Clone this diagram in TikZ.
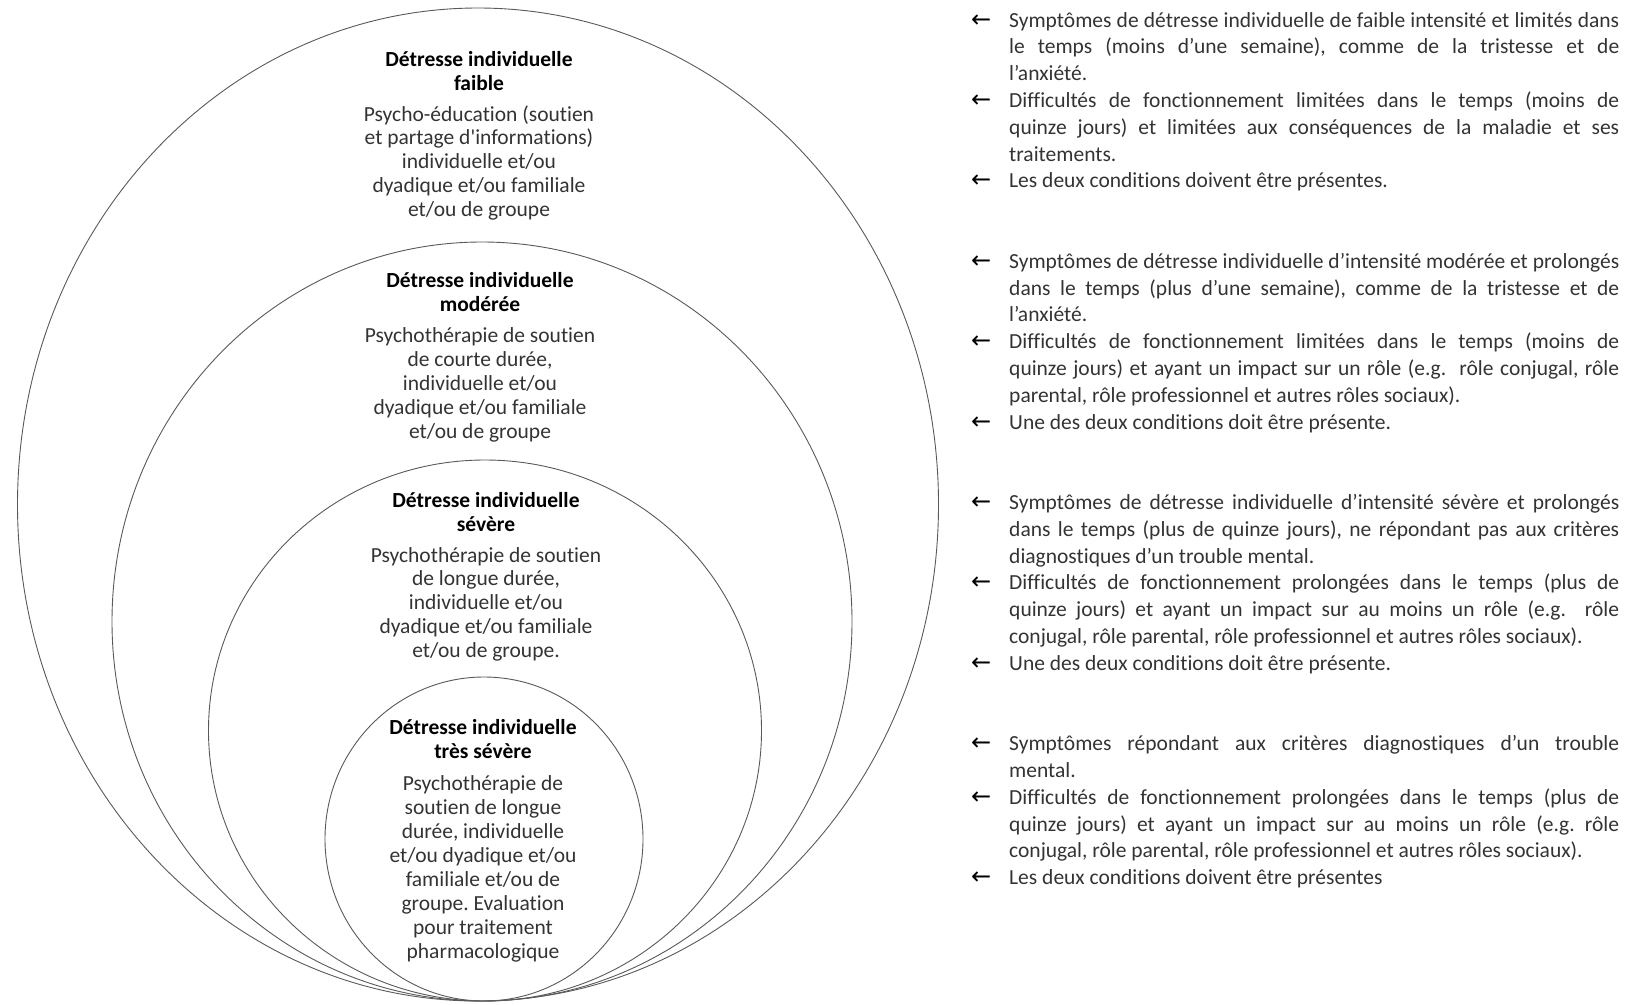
\documentclass[tikz,border=0pt]{standalone}
\usepackage{fontspec}
\setmainfont{Carlito}[Ligatures={TeX,NoCommon}]
\newfontfamily\arrowfont{DejaVu Sans}
\usetikzlibrary{shapes.geometric,positioning}
\hyphenpenalty=10000\relax
\newcommand{\critem}[1]{\hangindent=38pt\hangafter=1\noindent\makebox[38pt][l]{\textcolor{black}{\arrowfont\fontsize{24}{24}\selectfont ←}}\strut#1\par}
\newcommand{\ttl}[1]{\textcolor{black}{\textbf{#1}}}

\begin{document}
\begin{tikzpicture}[x=1pt,y=-1pt]
\tikzstyle{ring}=[ellipse, draw=black!65, line width=0.9pt, inner sep=0pt]
\tikzstyle{levtext}=[align=center, inner sep=0pt, anchor=north, text=black!80, font=\fontsize{21.5}{23.9}\selectfont\frenchspacing]
\tikzstyle{crit}=[text width=648pt, align=justify, inner sep=0pt, anchor=north west, text=black!80, font=\fontsize{21.5}{26.8}\selectfont\frenchspacing]
\useasboundingbox (0,0) rectangle (1630,1004);
  % nested rings, all touching at the bottom
  \node[ring, minimum width=921, minimum height=993] (ringfaible) at (478,504.5) {};
  \node[ring, minimum width=740, minimum height=759] (ringmoderee) at (482,621.5) {};
  \node[ring, minimum width=553, minimum height=541] (ringsevere) at (485,730.5) {};
  \node[ring, minimum width=318, minimum height=324] (ringtres) at (484,839) {};
  % texts inside the rings
  \node[levtext] (txtfaible) at (479,49.3) {\strut\ttl{Détresse individuelle}\\\ttl{faible}\\[7pt]Psycho-éducation (soutien\\et partage d\textquotesingle informations)\\individuelle et/ou\\dyadique et/ou familiale\\et/ou de groupe};
  \node[levtext] (txtmoderee) at (480,271) {\strut\ttl{Détresse individuelle}\\\ttl{modérée}\\[7pt]Psychothérapie de soutien\\de courte durée,\\individuelle et/ou\\dyadique et/ou familiale\\et/ou de groupe};
  \node[levtext] (txtsevere) at (486,490.3) {\strut\ttl{Détresse individuelle}\\\ttl{sévère}\\[7pt]Psychothérapie de soutien\\de longue durée,\\individuelle et/ou\\dyadique et/ou familiale\\et/ou de groupe.};
  \node[levtext] (txttres) at (483,718) {\strut\ttl{Détresse individuelle}\\\ttl{très sévère}\\[8pt]Psychothérapie de\\soutien de longue\\durée, individuelle\\et/ou dyadique et/ou\\familiale et/ou de\\groupe. Evaluation\\pour traitement\\pharmacologique};
  % criteria on the right
  \node[crit] (critfaible) at (971,8.2) {%
    \critem{Symptômes de détresse individuelle de faible intensité et limités dans\linebreak le temps (moins d’une semaine), comme de la tristesse et de\linebreak l’anxiété.}
    \critem{Difficultés de fonctionnement limitées dans le temps (moins de\linebreak quinze jours) et limitées aux conséquences de la maladie et ses\linebreak traitements.}
    \critem{Les deux conditions doivent être présentes.}};
  \node[crit] (critmoderee) at (971,249.4) {%
    \critem{Symptômes de détresse individuelle d’intensité modérée et prolongés\linebreak dans le temps (plus d’une semaine), comme de la tristesse et de\linebreak l’anxiété.}
    \critem{Difficultés de fonctionnement limitées dans le temps (moins de\linebreak quinze jours) et ayant un impact sur un rôle (e.g.\ \ rôle conjugal, rôle\linebreak parental, rôle professionnel et autres rôles sociaux).}
    \critem{Une des deux conditions doit être présente.}};
  \node[crit] (critsevere) at (971,490.6) {%
    \critem{Symptômes de détresse individuelle d’intensité sévère et prolongés\linebreak dans le temps (plus de quinze jours), ne répondant pas aux critères\linebreak diagnostiques d’un trouble mental.}
    \critem{Difficultés de fonctionnement prolongées dans le temps (plus de\linebreak quinze jours) et ayant un impact sur au moins un rôle (e.g.\ \ rôle\linebreak conjugal, rôle parental, rôle professionnel et autres rôles sociaux).}
    \critem{Une des deux conditions doit être présente.}};
  \node[crit] (crittres) at (971,731.8) {%
    \critem{Symptômes répondant aux critères diagnostiques d’un trouble\linebreak mental.}
    \critem{Difficultés de fonctionnement prolongées dans le temps (plus de\linebreak quinze jours) et ayant un impact sur au moins un rôle (e.g.\ rôle\linebreak conjugal, rôle parental, rôle professionnel et autres rôles sociaux).}
    \critem{Les deux conditions doivent être présentes}};
\end{tikzpicture}
\end{document}
